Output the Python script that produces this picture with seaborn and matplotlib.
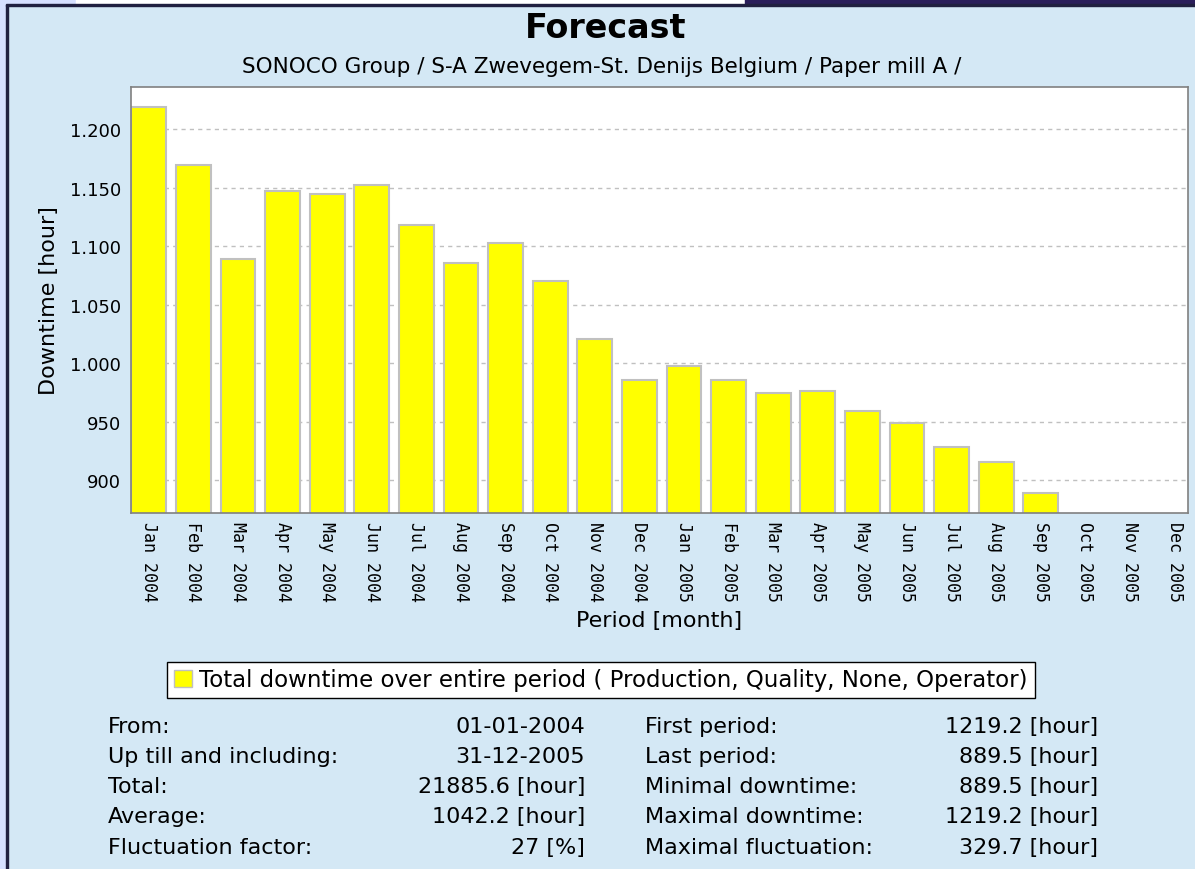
import matplotlib
matplotlib.use("Agg")
import matplotlib.pyplot as plt
from matplotlib.patches import Patch, Rectangle
from matplotlib.ticker import FuncFormatter, MultipleLocator
import numpy as np
import pandas as pd
import seaborn as sns

# data
months = ['Jan', 'Feb', 'Mar', 'Apr', 'May', 'Jun', 'Jul', 'Aug', 'Sep', 'Oct', 'Nov', 'Dec']
years = ['2004', '2005']
periods = [f"{m} {y}" for y in years for m in months]
downtime = [1219.2, 1169.0, 1089.0, 1147.0, 1145.0, 1152.0, 1118.0, 1085.5, 1102.6, 1070.0, 1020.5, 986.0,
            997.4, 986.0, 974.4, 976.0, 959.0, 948.7, 928.0, 916.0, 889.5, np.nan, np.nan, np.nan]

stats_left = [('From:', '01-01-2004'),
              ('Up till and including:', '31-12-2005'),
              ('Total:', '21885.6 [hour]'),
              ('Average:', '1042.2 [hour]'),
              ('Fluctuation factor:', '27 [%]')]
stats_right = [('First period:', '1219.2 [hour]'),
               ('Last period:', '889.5 [hour]'),
               ('Minimal downtime:', '889.5 [hour]'),
               ('Maximal downtime:', '1219.2 [hour]'),
               ('Maximal fluctuation:', '329.7 [hour]')]

df = pd.DataFrame({'period': periods, 'downtime': downtime})

bg = '#d4e8f5'
sns.set_style('white')
plt.rcParams['font.family'] = ['DejaVu Sans']
plt.rcParams['text.color'] = 'black'
plt.rcParams['axes.labelcolor'] = 'black'
plt.rcParams['xtick.color'] = 'black'
plt.rcParams['ytick.color'] = 'black'

W, H = 1195, 870
fig = plt.figure(figsize=(W / 100, H / 100), dpi=100, facecolor=bg)

# screenshot frame bits
fig.add_artist(Rectangle((0, 0), 6 / W, 1, transform=fig.transFigure, color='#d6e0ff', zorder=0))
fig.add_artist(Rectangle((6 / W, 0), 2 / W, 1 - 5 / H, transform=fig.transFigure, color='#202040', zorder=1))
fig.add_artist(Rectangle((0, 1 - 5 / H), 76 / W, 5 / H, transform=fig.transFigure, color='#d6e0ff', zorder=1))
fig.add_artist(Rectangle((76 / W, 1 - 5 / H), 1, 5 / H, transform=fig.transFigure, color='white', zorder=1))
fig.add_artist(Rectangle((745 / W, 1 - 6 / H), 1, 6 / H, transform=fig.transFigure, color='#2a1e5a', zorder=1))
fig.add_artist(Rectangle((6 / W, 1 - 7 / H), 1, 2 / H, transform=fig.transFigure, color='#202040', zorder=1))

ax = fig.add_axes([131 / W, 1 - 514 / H, (1188 - 131) / W, (514 - 88) / H])
ax.set_facecolor('white')

sns.barplot(data=df, x='period', y='downtime', order=periods, color='#ffff00',
            saturation=1, edgecolor='#c0c0c0', linewidth=1.5, width=0.78,
            errorbar=None, ax=ax)

ax.set_xlim(-0.4, 23.3)
ax.set_ylim(872, 1236)
ax.yaxis.set_major_locator(MultipleLocator(50))
ax.yaxis.set_major_formatter(FuncFormatter(lambda v, p: f"{v:,.0f}".replace(',', '.')))
ax.set_axisbelow(True)
ax.grid(axis='y', color='#c0c0c0', linestyle=(0, (3, 3)), linewidth=1)
ax.grid(axis='x', visible=False)

for s in ax.spines.values():
    s.set_color('#808080')
    s.set_linewidth(1.2)

ax.tick_params(axis='y', length=4, width=1, color='#808080', labelsize=13, pad=3)
ax.tick_params(axis='x', length=0, pad=6)
ax.set_xticks(range(len(periods)))
ax.set_xticklabels(periods, rotation=-90, family='DejaVu Sans Mono', fontsize=12, va='top', ha='center')

ax.set_xlabel('Period [month]', fontsize=16, labelpad=6)
ax.set_ylabel('Downtime [hour]', fontsize=16, labelpad=8)

fig.text(606 / W, 1 - 29 / H, 'Forecast', fontsize=24, fontweight='bold', ha='center', va='center')
fig.text(602 / W, 1 - 67 / H, 'SONOCO Group / S-A Zwevegem-St. Denijs Belgium / Paper mill A /',
         fontsize=15.5, ha='center', va='center')

leg = fig.legend(handles=[Patch(facecolor='#ffff00', edgecolor='#c0c0c0',
                                label='Total downtime over entire period ( Production, Quality, None, Operator)')],
                 loc='center', bbox_to_anchor=(601 / W, 1 - 681 / H), frameon=True, fancybox=False,
                 fontsize=16.5, handlelength=0.8, handleheight=0.8, handletextpad=0.3,
                 borderpad=0.3, borderaxespad=0)
leg.get_frame().set_edgecolor('black')
leg.get_frame().set_linewidth(1)
leg.get_frame().set_facecolor('white')
leg.get_frame().set_alpha(1)

row_y = [727, 757, 787, 817, 848]
for (lab, val), y in zip(stats_left, row_y):
    fig.text(108 / W, 1 - y / H, lab, fontsize=16, ha='left', va='center')
    fig.text(585 / W, 1 - y / H, val, fontsize=16, ha='right', va='center')
for (lab, val), y in zip(stats_right, row_y):
    fig.text(645 / W, 1 - y / H, lab, fontsize=16, ha='left', va='center')
    fig.text(1098 / W, 1 - y / H, val, fontsize=16, ha='right', va='center')

fig.savefig('out.png', dpi=100, facecolor=bg)
